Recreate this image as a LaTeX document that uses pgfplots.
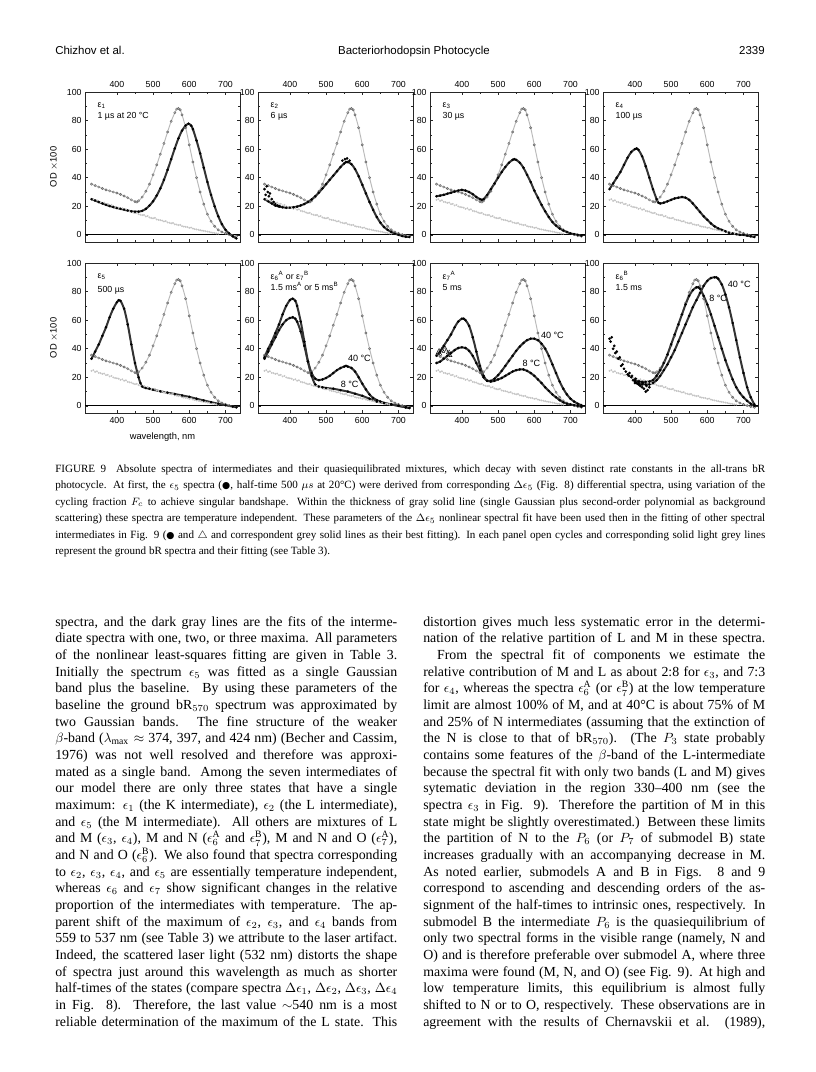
\documentclass[border=0pt]{standalone}
\usepackage{pgfplots}
\pgfplotsset{compat=1.18}
\usepackage{pgfplotstable}
\usepackage{fontspec}
\setmainfont{Liberation Serif}
\newfontfamily\figfont{Liberation Sans}
\newfontfamily\dejavu{DejaVu Sans}

% ---------------- data ----------------
\pgfplotstableread{
x y
330 35.5
340 34.5
350 33.5
360 32.5
370 31.5
380 30.8
390 30.0
400 29.3
410 28.3
420 27.2
430 26.0
440 24.5
450 23.3
455 23.0
460 23.8
470 26.5
480 30.5
490 35.5
500 42
510 49
520 56.5
530 64
540 72
550 79.5
560 85.5
565 88
570 88.5
575 87.5
580 84
590 75
600 63
610 51
620 40
630 30
640 21.5
650 14.5
660 9.5
670 6
680 3.5
690 2
700 1
710 0.2
720 -0.5
730 -1
}\bR

\pgfplotstableread{
x y
330 24.5
335 25
340 23.8
345 24.2
350 23.1
355 22.9
360 22.4
365 22.6
370 21.5
375 21.7
380 20.6
385 21
390 19.9
395 19.5
400 19.3
405 19.0
410 18.2
415 18.6
420 17.6
425 17.9
430 16.8
435 16.5
440 16.3
445 15.6
450 15.2
455 15.4
460 14.5
465 14.1
470 13.8
475 13.9
480 12.9
485 13.2
490 12.2
495 11.8
500 11.6
505 11.9
510 10.8
515 10.5
520 10.3
525 10.0
530 9.4
535 9.6
540 8.7
545 8.5
550 8.1
555 8.3
560 7.4
565 7.2
570 6.8
575 7.0
580 6.1
585 5.8
590 5.6
595 5.4
600 4.9
605 5.1
610 4.4
615 4.0
620 3.8
625 3.6
630 3.3
635 3.0
640 2.8
645 2.5
650 2.3
655 2.1
660 1.7
665 1.5
670 1.3
675 1.0
680 0.9
}\base

\pgfplotstableread{
x y
330 25
340 24
350 23
360 22
370 21
380 20.2
390 19.5
400 18.8
410 18.2
420 17.6
430 17
440 16.5
450 16.2
460 16.2
470 16.8
480 18.2
490 20.5
500 23.5
510 27.5
520 32.5
530 38.5
540 45.5
550 53
560 60.5
570 67.5
580 73
590 76.5
598 77.8
605 76.5
610 74
620 66
630 57
640 47
650 37
660 28
670 20
680 13
690 7.5
700 3.5
710 1
720 -1
730 -2.5
}\eA

\pgfplotstableread{
x y
330 25
340 23.5
350 22
360 20.5
370 19.8
380 19.3
390 19
400 19
410 19.3
420 19.8
430 20.6
440 21.6
450 23
460 24.8
470 27
480 29.5
490 32.5
500 35.5
510 38.5
520 41.5
530 44.5
540 47.5
550 50
555 51
560 51
570 49.5
580 46
590 41
600 35
610 29
620 23
630 17.5
640 12.5
650 8.5
660 5.5
670 3.5
680 2
690 0.8
700 0
710 -0.8
720 -1.3
730 -1.5
}\eB

\pgfplotstableread{
x y
330 32
333 28
336 34
339 30
342 27
345 29
350 25
355 23
360 21.5
366 20.5
372 20
545 52
552 53
558 53.5
565 52
}\eBs

\pgfplotstableread{
x y
330 27
340 27.5
350 28
360 28.8
370 29.5
380 30.3
390 31
400 31.5
410 31
420 30
430 28.5
440 26.5
450 25
455 24.5
460 25
470 28
480 32
490 36
500 40
510 44
520 47.5
530 50.5
540 52.5
545 53
550 52.5
560 50.5
570 47
580 42
590 37
600 31
610 26
620 21
630 16.5
640 12.5
650 9
660 6.5
670 4.5
680 3
690 2
700 1
710 0.5
720 0
730 -0.5
}\eC

\pgfplotstableread{
x y
330 32
340 36
350 40
360 44
370 49
380 54
390 58
400 60
405 60.5
410 59.5
420 55
430 48
440 40
450 32
460 25
465 22.5
470 22
480 22.5
490 23.5
500 24.5
510 25.5
520 26
530 26.5
540 26
550 24.5
560 22
570 19
580 16
590 13
600 10.5
610 8
620 6
630 4.5
640 3.5
650 2.5
660 1.5
670 1
680 0.5
690 0
700 0
710 -0.5
720 -1
730 -1.5
}\eD

\pgfplotstableread{
x y
330 33
340 38
350 43
360 49
370 55
380 62
390 68
400 72.5
405 74
410 73.5
420 68
430 57
440 43
450 30
460 20
465 16
470 13.5
480 12.5
490 12
500 11.3
520 10.2
540 9.2
560 8.3
580 7.3
600 6.3
620 5
640 3.8
660 2.6
680 1.5
700 0.5
720 -0.5
730 -1
}\eE

\pgfplotstableread{
x y
330 34
340 40
350 45
360 51
370 57
380 64
390 70
400 74
408 75
415 73.5
420 70
430 59
440 45
450 31
460 21
470 15
480 13.5
490 13
500 12.5
520 12
540 11
560 10
580 8.5
600 7
620 5
640 3
660 2
680 1
700 0
720 -1
730 -1.5
}\eFlow

\pgfplotstableread{
x y
330 33
340 38
350 43
360 48
370 53
380 57
390 60
400 61.5
408 62
415 61
420 59
430 52
440 42
450 31
460 23
470 19
480 18
490 18.5
500 19.5
510 21
520 23
530 25
540 26.5
550 27.5
555 28
560 27.5
570 26.5
580 24
590 20
600 15.5
610 11.5
620 8
630 5.5
640 4
650 3
660 2
680 1
700 0
720 -1
730 -1.5
}\eFhigh

\pgfplotstableread{
x y
330 35
340 38
350 42
360 46
370 50
380 55
390 59
400 61
405 61
410 60
420 56
430 48
440 38
450 28
460 21
470 17.5
480 17
490 17.5
500 18.5
510 19.5
520 21
530 22.5
540 24
550 25
560 25.5
570 25.5
580 24.5
590 23
600 21
610 18.5
620 16
630 13
640 10.5
650 8
660 6
670 4
680 2.5
690 1.5
700 1
710 0.5
720 0
730 -0.5
}\eGlow

\pgfplotstableread{
x y
330 30
340 31
350 33
360 35
370 37
380 39
390 40.5
400 41
410 40.5
420 38.5
430 35
440 30
450 25
460 20
470 17.5
480 17.5
490 19
500 21.5
510 24.5
520 28
530 31.5
540 35
550 38.5
560 41.5
570 44
580 46
590 47
600 47
610 46
620 43.5
630 40
640 35
650 29
660 23
670 17
680 12
690 8
700 5
710 3
720 1.5
730 0.5
}\eGhigh

\pgfplotstableread{
x y
333 37
337 39
341 36
345 40
349 38
353 41
357 39
361 37
365 38
369 35
}\eGtri

\pgfplotstableread{
x y
400 18
410 17
420 16.8
430 16.8
440 17
450 18
460 21
470 25
480 30
490 36
500 43
510 50
520 57
530 64
540 71
550 77
560 81
570 83
575 83
580 82
590 77
600 71
610 64
620 56
630 48
640 40
650 32
660 25
670 18.5
680 13
690 9
700 6
710 3.5
720 1.5
730 0
}\eHa

\pgfplotstableread{
x y
400 16
410 15.5
420 15
430 15
440 15
450 16
460 18
470 21
480 25
490 29
500 34
510 39
520 45
530 51
540 57
550 63
560 69
570 74
580 79
590 84
600 87.5
610 89.5
620 90
625 90
630 89
640 85
650 78
660 69
670 58
680 46
690 34
700 23
710 13
720 6
730 1
}\eHb

\pgfplotstableread{
x y
330 47
333 45
336 48
340 40
343 42
346 37
350 38
354 33
358 34
362 28
366 29
370 26
375 24
380 22
385 23
390 20
395 18
400 17
405 16
410 15
415 14
420 13
425 12
430 10
435 11
440 13
384 21
392 21
402 19
412 17
422 16
432 14
}\eHs

% ---------------- styles ----------------
\pgfplotsset{
  panel/.style={
    scale only axis, width=116.25pt, height=112.5pt, anchor=north west,
    xmin=312, xmax=740, ymin=-5, ymax=100,
    xtick={400,500,600,700}, ytick={0,20,40,60,80,100},
    minor x tick num=1, minor y tick num=1,
    tick align=inside, xtick pos=both, ytick pos=both,
    major tick length=2.6pt, minor tick length=1.6pt,
    axis line style={black!85, line width=0.6pt},
    every tick/.style={black!85, line width=0.5pt},
    tick label style={font=\figfont\fontsize{6.6}{7}\selectfont},
    /pgf/number format/assume math mode=true,
    yticklabel style={xshift=1pt},
    label style={font=\figfont\fontsize{7}{8}\selectfont},
  },
  toprow/.style={xticklabel pos=upper},
  zero/.style={black, line width=0.6pt},
  bRline/.style={gray!55, line width=0.7pt, smooth},
  bRmark/.style={only marks, mark=o, mark size=0.85pt, mark options={black!60, line width=0.35pt}},
  basemark/.style={only marks, mark=*, mark size=0.5pt, mark options={gray!45, draw=gray!45}},
  inter/.style={black!80, line width=1.5pt, smooth, mark=*, mark size=0.85pt, mark options={black, fill=black, line width=0.2pt}},
  scat/.style={only marks, mark=*, mark size=0.8pt, mark options={black, fill=black}},
}
\tikzset{
  ann/.style={anchor=north west, align=left, font=\figfont\fontsize{6.6}{8.5}\selectfont, inner sep=0pt},
  tlab/.style={font=\figfont\fontsize{6.8}{8}\selectfont, inner sep=0.5pt},
}

\newcommand\ground{%
  \addplot[zero] coordinates {(312,0) (740,0)};
  \addplot[basemark] table {\base};
  \addplot[bRline] table {\bR};
  \addplot[bRmark] table {\bR};
}

\newcommand\jl[1]{\noindent\makebox[\linewidth][s]{#1}\par}
\newcommand\lastl[1]{\noindent\makebox[\linewidth][l]{#1}\par}

\begin{document}
\begin{tikzpicture}[x=0.75pt,y=-0.75pt]
\path[use as bounding box, fill=white] (0,0) rectangle (816,1072);

% header
\node[anchor=base west, inner sep=0pt, font=\figfont\fontsize{8.6}{10}\selectfont] at (55,54) {Chizhov et al.};
\node[anchor=base, inner sep=0pt, font=\figfont\fontsize{8.6}{10}\selectfont] at (414,54) {Bacteriorhodopsin Photocycle};
\node[anchor=base east, inner sep=0pt, font=\figfont\fontsize{8.6}{10}\selectfont] at (765,54) {2339};

% ---------- top row ----------
\begin{axis}[panel, toprow, at={(63.75pt,-69pt)}, ylabel={OD $\times$100}]
\ground
\addplot[inter] table {\eA};
\node[ann] at (rel axis cs:0.08,0.93) {ε\textsubscript{1}\\1 µs at 20 °C};
\end{axis}

\begin{axis}[panel, toprow, at={(193.5pt,-69pt)}]
\ground
\addplot[scat] table {\eBs};
\addplot[inter] table {\eB};
\node[ann] at (rel axis cs:0.08,0.93) {ε\textsubscript{2}\\6 µs};
\end{axis}

\begin{axis}[panel, toprow, at={(322.5pt,-69pt)}]
\ground
\addplot[inter] table {\eC};
\node[ann] at (rel axis cs:0.08,0.93) {ε\textsubscript{3}\\30 µs};
\end{axis}

\begin{axis}[panel, toprow, at={(452.25pt,-69pt)}]
\ground
\addplot[inter] table {\eD};
\node[ann] at (rel axis cs:0.08,0.93) {ε\textsubscript{4}\\100 µs};
\end{axis}

% ---------- bottom row ----------
\begin{axis}[panel, at={(63.75pt,-197.25pt)}, ylabel={OD $\times$100}, xlabel={wavelength, nm}]
\ground
\addplot[inter] table {\eE};
\node[ann] at (rel axis cs:0.08,0.93) {ε\textsubscript{5}\\[2pt]500 µs};
\end{axis}

\begin{axis}[panel, at={(193.5pt,-197.25pt)}]
\ground
\addplot[inter] table {\eFlow};
\addplot[inter] table {\eFhigh};
\node[ann] at (rel axis cs:0.08,0.95) {ε\textsubscript{6}\textsuperscript{A} or ε\textsubscript{7}\textsuperscript{B}\\1.5 ms\textsuperscript{A} or 5 ms\textsuperscript{B}};
\node[tlab] at (axis cs:592,33) {40 °C};
\node[tlab] at (axis cs:565,15) {8 °C};
\end{axis}

\begin{axis}[panel, at={(322.5pt,-197.25pt)}]
\ground
\addplot[only marks, mark=triangle, mark size=1.2pt, mark options={black, line width=0.3pt}] table {\eGtri};
\addplot[inter] table {\eGlow};
\addplot[inter] table {\eGhigh};
\node[ann] at (rel axis cs:0.08,0.95) {ε\textsubscript{7}\textsuperscript{A}\\5 ms};
\node[tlab] at (axis cs:650,49) {40 °C};
\node[tlab] at (axis cs:592,30) {8 °C};
\end{axis}

\begin{axis}[panel, at={(452.25pt,-197.25pt)}]
\ground
\addplot[scat] table {\eHs};
\addplot[inter] table {\eHa};
\addplot[inter] table {\eHb};
\node[ann] at (rel axis cs:0.08,0.95) {ε\textsubscript{6}\textsuperscript{B}\\1.5 ms};
\node[tlab] at (axis cs:688,85) {40 °C};
\node[tlab] at (axis cs:630,75) {8 °C};
\end{axis}

% ---------- caption ----------
\node[anchor=base west, inner sep=0pt] at (55,472) {\begin{minipage}[t]{532.5pt}\fontsize{8.3}{12.4}\selectfont
\jl{FIGURE 9\hspace{0.9em}Absolute spectra of intermediates and their quasiequilibrated mixtures, which decay with seven distinct rate constants in the all-trans bR}
\jl{photocycle. At first, the $\epsilon_5$ spectra ({\dejavu\fontsize{7}{8}\selectfont ●}, half-time 500 $\mu s$ at 20°C) were derived from corresponding $\Delta\epsilon_5$ (Fig. 8) differential spectra, using variation of the}
\jl{cycling fraction $F_c$ to achieve singular bandshape. Within the thickness of gray solid line (single Gaussian plus second-order polynomial as background}
\jl{scattering) these spectra are temperature independent. These parameters of the $\Delta\epsilon_5$ nonlinear spectral fit have been used then in the fitting of other spectral}
\jl{intermediates in Fig. 9 ({\dejavu\fontsize{7}{8}\selectfont ●} and $\triangle$ and correspondent grey solid lines as their best fitting). In each panel open cycles and corresponding solid light grey lines}
\lastl{represent the ground bR spectra and their fitting (see Table 3).}
\end{minipage}};

% ---------- left column ----------
\node[anchor=base west, inner sep=0pt] at (55,626) {\begin{minipage}[t]{256.5pt}\fontsize{10.4}{12.5}\selectfont
\jl{spectra, and the dark gray lines are the fits of the interme-}
\jl{diate spectra with one, two, or three maxima. All parameters}
\jl{of the nonlinear least-squares fitting are given in Table 3.}
\jl{Initially the spectrum $\epsilon_5$ was fitted as a single Gaussian}
\jl{band plus the baseline. By using these parameters of the}
\jl{baseline the ground bR$_{570}$ spectrum was approximated by}
\jl{two Gaussian bands. The fine structure of the weaker}
\jl{$\beta$-band ($\lambda_{\mathrm{max}}\approx$ 374, 397, and 424 nm) (Becher and Cassim,}
\jl{1976) was not well resolved and therefore was approxi-}
\jl{mated as a single band. Among the seven intermediates of}
\jl{our model there are only three states that have a single}
\jl{maximum: $\epsilon_1$ (the K intermediate), $\epsilon_2$ (the L intermediate),}
\jl{and $\epsilon_5$ (the M intermediate). All others are mixtures of L}
\jl{and M ($\epsilon_3$, $\epsilon_4$), M and N ($\epsilon_6^{\mathrm{A}}$ and $\epsilon_7^{\mathrm{B}}$), M and N and O ($\epsilon_7^{\mathrm{A}}$),}
\jl{and N and O ($\epsilon_6^{\mathrm{B}}$). We also found that spectra corresponding}
\jl{to $\epsilon_2$, $\epsilon_3$, $\epsilon_4$, and $\epsilon_5$ are essentially temperature independent,}
\jl{whereas $\epsilon_6$ and $\epsilon_7$ show significant changes in the relative}
\jl{proportion of the intermediates with temperature. The ap-}
\jl{parent shift of the maximum of $\epsilon_2$, $\epsilon_3$, and $\epsilon_4$ bands from}
\jl{559 to 537 nm (see Table 3) we attribute to the laser artifact.}
\jl{Indeed, the scattered laser light (532 nm) distorts the shape}
\jl{of spectra just around this wavelength as much as shorter}
\jl{half-times of the states (compare spectra $\Delta\epsilon_1$, $\Delta\epsilon_2$, $\Delta\epsilon_3$, $\Delta\epsilon_4$}
\jl{in Fig. 8). Therefore, the last value $\sim$540 nm is a most}
\jl{reliable determination of the maximum of the L state. This}
\end{minipage}};

% ---------- right column ----------
\node[anchor=base west, inner sep=0pt] at (423,626) {\begin{minipage}[t]{256.5pt}\fontsize{10.4}{12.5}\selectfont
\jl{distortion gives much less systematic error in the determi-}
\jl{nation of the relative partition of L and M in these spectra.}
\jl{\hspace*{1em}From the spectral fit of components we estimate the}
\jl{relative contribution of M and L as about 2:8 for $\epsilon_3$, and 7:3}
\jl{for $\epsilon_4$, whereas the spectra $\epsilon_6^{\mathrm{A}}$ (or $\epsilon_7^{\mathrm{B}}$) at the low temperature}
\jl{limit are almost 100\% of M, and at 40°C is about 75\% of M}
\jl{and 25\% of N intermediates (assuming that the extinction of}
\jl{the N is close to that of bR$_{570}$). (The $P_3$ state probably}
\jl{contains some features of the $\beta$-band of the L-intermediate}
\jl{because the spectral fit with only two bands (L and M) gives}
\jl{sytematic deviation in the region 330--400 nm (see the}
\jl{spectra $\epsilon_3$ in Fig. 9). Therefore the partition of M in this}
\jl{state might be slightly overestimated.) Between these limits}
\jl{the partition of N to the $P_6$ (or $P_7$ of submodel B) state}
\jl{increases gradually with an accompanying decrease in M.}
\jl{As noted earlier, submodels A and B in Figs. 8 and 9}
\jl{correspond to ascending and descending orders of the as-}
\jl{signment of the half-times to intrinsic ones, respectively. In}
\jl{submodel B the intermediate $P_6$ is the quasiequilibrium of}
\jl{only two spectral forms in the visible range (namely, N and}
\jl{O) and is therefore preferable over submodel A, where three}
\jl{maxima were found (M, N, and O) (see Fig. 9). At high and}
\jl{low temperature limits, this equilibrium is almost fully}
\jl{shifted to N or to O, respectively. These observations are in}
\jl{agreement with the results of Chernavskii et al. (1989),}
\end{minipage}};

\end{tikzpicture}
\end{document}
